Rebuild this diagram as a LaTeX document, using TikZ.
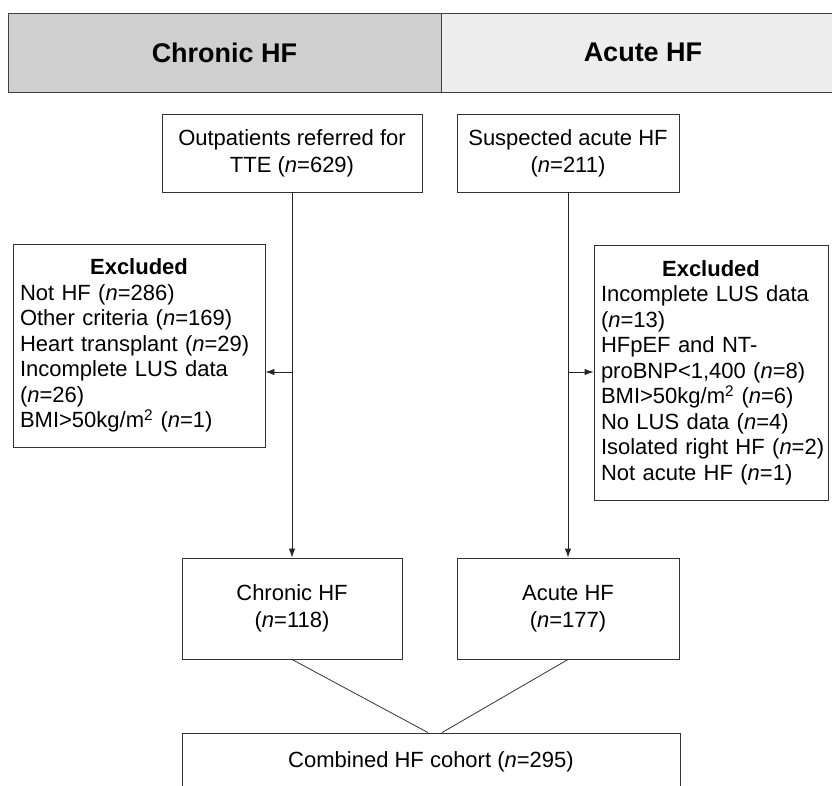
\documentclass[tikz,border=0pt]{standalone}
\usepackage{fontspec}
\setmainfont{Liberation Sans}
\usetikzlibrary{arrows.meta}
\tikzset{
  head/.style={draw=black!75, line width=1pt, minimum height=79pt, inner sep=0pt,
    font=\fontsize{27}{30}\selectfont\bfseries},
  stage/.style={draw=black!80, line width=0.9pt, align=center, inner sep=0pt,
    font=\fontsize{22}{27}\selectfont},
  excl/.style={draw=black!80, line width=0.9pt, align=left, inner xsep=7pt, inner ysep=0pt,
    font=\fontsize{22}{25.5}\selectfont},
  flow/.style={draw=black!85, line width=0.9pt, -{Latex[length=9pt,width=6.5pt]}},
  merge/.style={draw=black!80, line width=0.8pt},
}
\newcommand{\nn}{\textit{n}}
\newcommand{\exclhead}{\makebox[\linewidth][c]{\bfseries Excluded}\\}
\begin{document}
\begin{tikzpicture}[x=1pt,y=-1pt]
    \clip (0,0) rectangle (832,785);
    % column heads
    \node[head, fill=black!19, minimum width=433pt] (chronichead) at (224.5,52.5) {Chronic HF};
    \node[head, fill=black!7, minimum width=404pt] (acutehead) at (643,52.5) {Acute HF};
    % screened
    \node[stage, minimum width=260pt, minimum height=78pt] (outpat) at (292,153)
        {Outpatients referred for\\TTE (\nn=629)};
    \node[stage, minimum width=222pt, minimum height=78pt] (suspect) at (568,153)
        {Suspected acute HF\\(\nn=211)};
    % excluded
    \node[excl, text width=238pt, minimum height=203pt] (exclchronic) at (139,345.5)
        {\exclhead Not HF (\nn=286)\\Other criteria (\nn=169)\\Heart transplant (\nn=29)\\
         Incomplete LUS data\\(\nn=26)\\BMI>50kg/m\textsuperscript{2} (\nn=1)};
    \node[excl, text width=220pt, minimum height=255pt] (exclacute) at (711,372.5)
        {\exclhead Incomplete LUS data\\(\nn=13)\\HFpEF and NT-\\proBNP<1,400 (\nn=8)\\
         BMI>50kg/m\textsuperscript{2} (\nn=6)\\No LUS data (\nn=4)\\Isolated~right~HF~(\nn=2)\\
         Not acute HF (\nn=1)};
    % included
    \node[stage, minimum width=220pt, minimum height=101pt] (chronic) at (292,608.5)
        {Chronic HF\\(\nn=118)};
    \node[stage, minimum width=222pt, minimum height=101pt] (acute) at (568,608.5)
        {Acute HF\\(\nn=177)};
    \node[stage, minimum width=498pt, minimum height=58pt] (combined) at (431,762)
        {Combined HF cohort (\nn=295)};
    % connectors
    \coordinate (lsplit) at (292,372);
    \coordinate (rsplit) at (568,372);
    \draw[flow] (outpat) -- (chronic);
    \draw[flow] (suspect) -- (acute);
    \draw[flow] (lsplit) -- (lsplit -| exclchronic.east);
    \draw[flow] (rsplit) -- (rsplit -| exclacute.west);
    \draw[merge] (chronic.south) -- ([xshift=-3pt]combined.north);
    \draw[merge] (acute.south) -- ([xshift=11pt]combined.north);
\end{tikzpicture}
\end{document}
